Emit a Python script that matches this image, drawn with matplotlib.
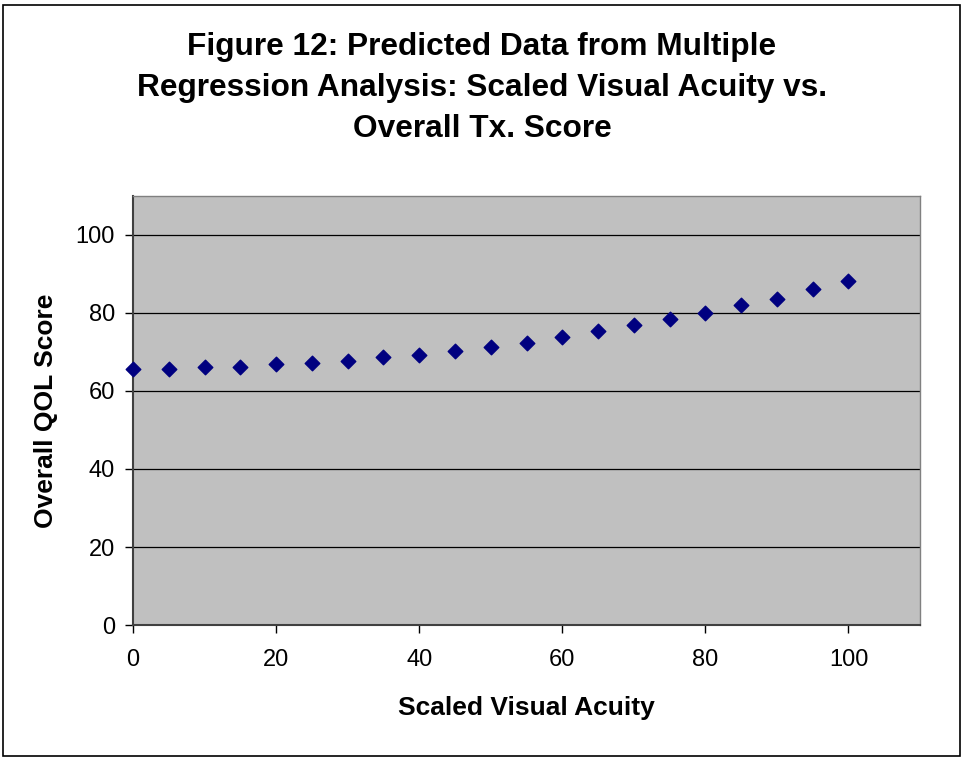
import matplotlib
matplotlib.use("Agg")
import matplotlib.pyplot as plt
from matplotlib.patches import Rectangle

plt.rcParams['font.family'] = ['Liberation Sans', 'DejaVu Sans']

acuity = [0, 5, 10, 15, 20, 25, 30, 35, 40, 45, 50, 55, 60, 65, 70, 75, 80, 85, 90, 95, 100]
qol = [65.6, 65.6, 66.2, 66.2, 66.8, 67.2, 67.7, 68.7, 69.3, 70.3, 71.2, 72.3, 73.8, 75.3,
       76.9, 78.5, 80.0, 82.1, 83.6, 86.2, 88.2]
x_ticks = [0, 20, 40, 60, 80, 100]
y_ticks = [0, 20, 40, 60, 80, 100]
title = "Figure 12: Predicted Data from Multiple\nRegression Analysis: Scaled Visual Acuity vs.\nOverall Tx. Score"

fig = plt.figure(figsize=(9.64, 7.61), dpi=100)
fig.patch.set_facecolor('white')
fig.patches.append(Rectangle((3/964, 5/761), 957/964, 751/761, transform=fig.transFigure,
                             fill=False, edgecolor='black', linewidth=1.2))

ax = fig.add_axes([133/964, 1 - 625/761, (920 - 133)/964, (625 - 196)/761])
ax.set_facecolor('#C0C0C0')
ax.set_xlim(0, 110)
ax.set_ylim(0, 110)
ax.set_xticks(x_ticks)
ax.set_yticks(y_ticks)
ax.yaxis.grid(True, color='black', linewidth=0.9)
ax.set_axisbelow(True)
for s in ['left', 'bottom']:
    ax.spines[s].set_color('#404040')
    ax.spines[s].set_linewidth(1.5)
for s in ['right', 'top']:
    ax.spines[s].set_color('#808080')
    ax.spines[s].set_linewidth(1.0)
ax.tick_params(direction='out', length=6, width=1, labelsize=17, pad=7)
ax.tick_params(axis='x', pad=11)

ax.scatter(acuity, qol, marker='D', s=55, color='#000080', zorder=3, clip_on=False)

ax.set_xlabel('Scaled Visual Acuity', fontsize=19, fontweight='bold', labelpad=18)
ax.set_ylabel('Overall QOL Score', fontsize=19, fontweight='bold', labelpad=13)

fig.text(0.5, 1 - 88/761, title, ha='center', va='center', fontsize=22.8, fontweight='bold',
         linespacing=1.47)

fig.savefig('out.png', dpi=100)
